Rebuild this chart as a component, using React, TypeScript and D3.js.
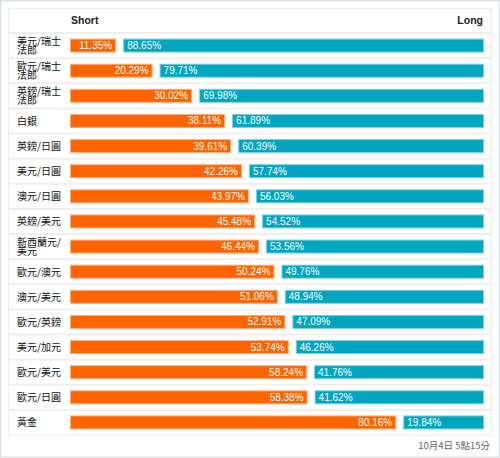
import React from "react";
import * as d3 from "d3";

const categories = [
  "美元/瑞士法郎", "歐元/瑞士法郎", "英鎊/瑞士法郎", "白銀", "英鎊/日圓", "美元/日圓",
  "澳元/日圓", "英鎊/美元", "新西蘭元/美元", "歐元/澳元", "澳元/美元", "歐元/英鎊",
  "美元/加元", "歐元/美元", "歐元/日圓", "黃金",
];
const shortValues = [11.35, 20.29, 30.02, 38.11, 39.61, 42.26, 43.97, 45.48, 46.44, 50.24, 51.06, 52.91, 53.74, 58.24, 58.38, 80.16];
const longValues = [88.65, 79.71, 69.98, 61.89, 60.39, 57.74, 56.03, 54.52, 53.56, 49.76, 48.94, 47.09, 46.26, 41.76, 41.62, 19.84];
const headerShort = "Short";
const headerLong = "Long";
const footer = "10月4日 5點15分";

const W = 500, H = 458;
const panelX = 8, panelY = 8, panelW = 483, panelH = 427;
const headerH = 25;
const barX0 = 70, barX1 = 484, gap = 7;
const ORANGE = "#ff6400";
const TEAL = "#00a6c0";

function wrap(s: string): string[] {
  const chars = Array.from(s);
  if (chars.length <= 5) return [s];
  return [chars.slice(0, 5).join(""), chars.slice(5).join("")];
}

export default function App() {
  const rowsTop = panelY + headerH;
  const y = d3.scaleBand<number>()
    .domain(d3.range(categories.length))
    .range([rowsTop, panelY + panelH])
    .paddingInner(0);
  const x = d3.scaleLinear().domain([0, 100]).range([0, barX1 - barX0 - gap]);
  const barH = 13;
  const cjk = "'Noto Sans CJK TC', 'Noto Sans', sans-serif";
  const sans = "'Liberation Sans', Arial, sans-serif";

  return (
    <svg width={W} height={H} style={{ position: "absolute", left: 0, top: 0, display: "block" }}>
      <rect x={0} y={0} width={W} height={H} fill="#fff" />
      <rect x={0.75} y={0.75} width={W - 1.5} height={H - 1.5} fill="none" stroke="#dde4e8" strokeWidth={1.5} />
      <rect x={panelX + 0.5} y={panelY + 0.5} width={panelW} height={panelH} fill="#fff" stroke="#ececec" strokeWidth={1} />
      <text x={71} y={panelY + 15.5} fontFamily={sans} fontSize={10.5} fontWeight="bold" fill="#222">{headerShort}</text>
      <text x={483} y={panelY + 15.5} textAnchor="end" fontFamily={sans} fontSize={10.5} fontWeight="bold" fill="#222">{headerLong}</text>
      {categories.map((c, i) => {
        const top = y(i)!;
        const bh = y.bandwidth();
        const cy = top + bh / 2;
        const sw = x(shortValues[i]);
        const lx = barX0 + sw + gap;
        const lw = barX1 - lx;
        const lines = wrap(c);
        return (
          <g key={c}>
            <line x1={panelX + 1} x2={panelX + panelW} y1={top} y2={top} stroke="#efefef" strokeWidth={2} />
            {lines.map((ln, k) => (
              <text key={k} x={17} y={cy + (lines.length === 1 ? 4 : k === 0 ? -0.5 : 8.5)} fontFamily={cjk} fontSize={10} fill="#111">{ln}</text>
            ))}
            <rect x={barX0 + 0.5} y={cy - barH / 2} width={sw - 1} height={barH} fill={ORANGE} stroke="#ffb080" strokeWidth={1} />
            <rect x={lx + 0.5} y={cy - barH / 2} width={lw - 1} height={barH} fill={TEAL} stroke="#7fd0dd" strokeWidth={1} />
            <text x={barX0 + sw - 4} y={cy + 3.5} textAnchor="end" fontFamily={sans} fontSize={10} fill="#fff">{shortValues[i].toFixed(2)}%</text>
            <text x={lx + 4} y={cy + 3.5} fontFamily={sans} fontSize={10} fill="#fff">{longValues[i].toFixed(2)}%</text>
          </g>
        );
      })}
      <text x={490} y={449} textAnchor="end" fontFamily={cjk} fontSize={9.5} fill="#666">{footer}</text>
    </svg>
  );
}
